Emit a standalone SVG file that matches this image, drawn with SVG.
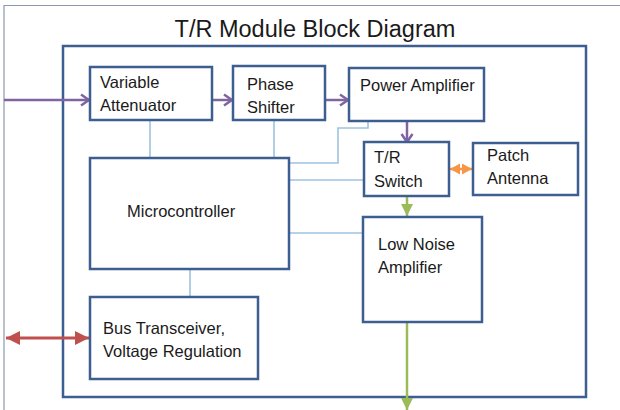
<svg xmlns="http://www.w3.org/2000/svg" width="620" height="410" viewBox="0 0 620 410">
<style>
.box{fill:#fff;stroke:#3C5E91;stroke-width:2.5}
.t{font-family:"Liberation Sans",Arial,sans-serif;font-size:16.5px;fill:#1a1a1a}
.ctl{fill:none;stroke:#9DC3DF;stroke-width:1.6}
.pur{fill:none;stroke:#8064A2;stroke-width:2.5}
.grn{fill:none;stroke:#9BBB59;stroke-width:2.5}
.red{fill:none;stroke:#C0504D;stroke-width:3}
.org{fill:none;stroke:#F79646;stroke-width:2.5}
</style>
<defs>
<marker id="mp" markerUnits="userSpaceOnUse" markerWidth="14" markerHeight="14" refX="11" refY="7" orient="auto">
<path d="M3,1.5 L11,7 L3,12.5" fill="none" stroke="#8064A2" stroke-width="2.5"/>
</marker>
<marker id="mg" markerUnits="userSpaceOnUse" markerWidth="14" markerHeight="14" refX="12" refY="7" orient="auto">
<path d="M0,1 L12,7 L0,13 Z" fill="#9BBB59"/>
</marker>
<marker id="mr" markerUnits="userSpaceOnUse" markerWidth="16" markerHeight="16" refX="14" refY="8" orient="auto-start-reverse">
<path d="M0,1 L14,8 L0,15 Z" fill="#C0504D"/>
</marker>
<marker id="mo" markerUnits="userSpaceOnUse" markerWidth="12" markerHeight="12" refX="10" refY="6" orient="auto-start-reverse">
<path d="M0,0.5 L10,6 L0,11.5 Z" fill="#F79646"/>
</marker>
</defs>
<rect width="620" height="410" fill="#fff"/>
<path d="M4,420 V5.5 H625" fill="none" stroke="#8A9AB0" stroke-width="1.2"/>
<text x="315" y="37" text-anchor="middle" font-family="'Liberation Sans',Arial,sans-serif" font-size="23.5" fill="#1a1a1a">T/R Module Block Diagram</text>
<g id="module"><rect x="63" y="46" width="523" height="351" fill="none" stroke="#3C5E91" stroke-width="2.5"/></g>
<g id="connectors">
<path class="ctl" d="M150,120 V158 M274,120 V158 M368,121 V128 H338 V163 H289 M289,180 H364 M289,233 H363 M190,269 V297"/>
<path class="pur" d="M4,100 H89" marker-end="url(#mp)"/>
<path class="pur" d="M212,100 H232" marker-end="url(#mp)"/>
<path class="pur" d="M325,100 H348" marker-end="url(#mp)"/>
<path class="pur" d="M407,121 V142" marker-end="url(#mp)"/>
<path class="grn" d="M407,196 V216" marker-end="url(#mg)"/>
<path class="grn" d="M407,322 V410" marker-end="url(#mg)"/>
<path class="red" d="M6,338 H89" marker-start="url(#mr)" marker-end="url(#mr)"/>
<path class="org" d="M450,169 H472" marker-start="url(#mo)" marker-end="url(#mo)"/>
</g>
<g id="variable-attenuator"><rect class="box" x="90" y="67" width="122" height="53"/><text class="t" x="100" y="88">Variable</text><text class="t" x="100" y="111">Attenuator</text></g>
<g id="phase-shifter"><rect class="box" x="233" y="66" width="92" height="54"/><text class="t" x="247" y="90">Phase</text><text class="t" x="247" y="113">Shifter</text></g>
<g id="power-amplifier"><rect class="box" x="349" y="68" width="135" height="53"/><text class="t" x="360" y="91">Power Amplifier</text></g>
<g id="tr-switch"><rect class="box" x="364" y="142" width="85" height="54"/><text class="t" x="374" y="163">T/R</text><text class="t" x="374" y="187">Switch</text></g>
<g id="patch-antenna"><rect class="box" x="473" y="143" width="105" height="52"/><text class="t" x="487" y="161">Patch</text><text class="t" x="487" y="184">Antenna</text></g>
<g id="microcontroller"><rect class="box" x="90" y="158" width="199" height="111"/><text class="t" x="127" y="217">Microcontroller</text></g>
<g id="low-noise-amplifier"><rect class="box" x="363" y="217" width="119" height="105"/><text class="t" x="378" y="250">Low Noise</text><text class="t" x="378" y="273">Amplifier</text></g>
<g id="bus-transceiver"><rect class="box" x="90" y="297" width="168" height="82"/><text class="t" x="103" y="334">Bus Transceiver,</text><text class="t" x="103" y="357">Voltage Regulation</text></g>
</svg>
